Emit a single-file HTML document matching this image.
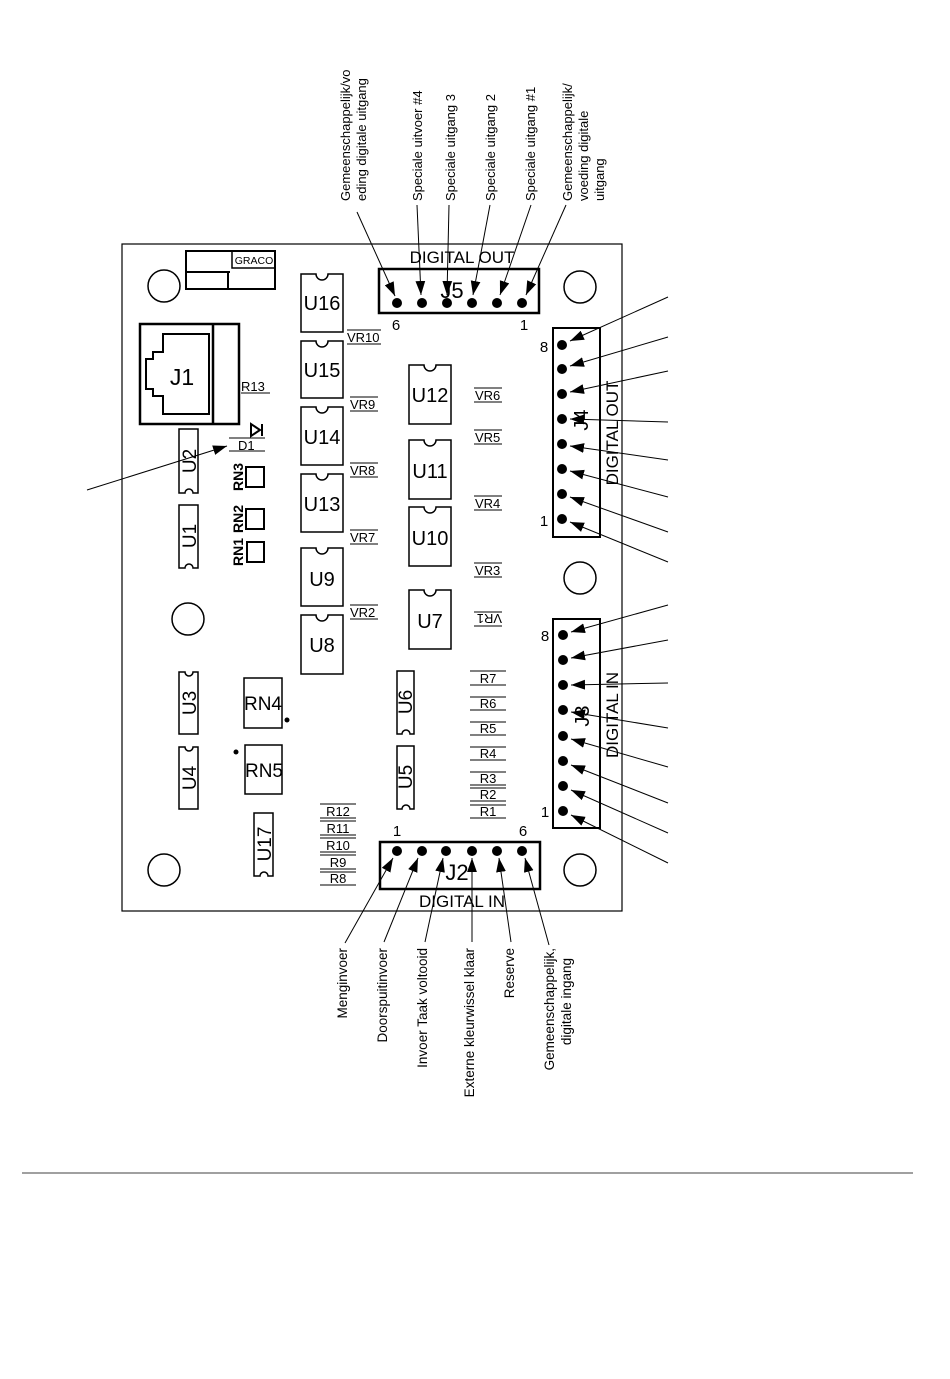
<!DOCTYPE html>
<html><head><meta charset="utf-8"><style>
html,body{margin:0;padding:0;background:#fff;}
svg{display:block;}
text{font-family:"Liberation Sans",sans-serif;fill:#000;}
</style></head><body>
<svg width="950" height="1379" viewBox="0 0 950 1379" xmlns="http://www.w3.org/2000/svg">
<defs>
<marker id="ar2" viewBox="0 0 10 10" refX="10" refY="5" markerWidth="14" markerHeight="14" markerUnits="userSpaceOnUse" orient="auto"><path d="M0,1.5 L10,5 L0,8.5 z" fill="#000"/></marker>
</defs>
<rect width="950" height="1379" fill="#fff"/>
<rect x="122" y="244" width="500" height="667" fill="none" stroke="#000" stroke-width="1.2"/>
<g fill="none" stroke="#000" stroke-width="1.5">
<circle cx="164" cy="286" r="16"/><circle cx="580" cy="287" r="16"/><circle cx="580" cy="578" r="16"/>
<circle cx="188" cy="619" r="16"/><circle cx="164" cy="870" r="16"/><circle cx="580" cy="870" r="16"/>
</g>
<g fill="none" stroke="#000" stroke-width="2">
<rect x="186" y="251" width="89" height="38"/>
<rect x="232" y="251" width="43" height="17" stroke-width="1.5"/>
<line x1="186" y1="272" x2="230" y2="272"/><line x1="228" y1="272" x2="228" y2="289"/>
</g>
<text x="254" y="264" font-size="10.5" text-anchor="middle">GRACO</text>
<g fill="none" stroke="#000" stroke-width="2.5">
<rect x="140" y="324" width="99" height="100"/>
<line x1="213" y1="324" x2="213" y2="424"/>
<polygon points="163,334 209,334 209,414 163,414 163,396 153,396 153,389 146,389 146,359 153,359 153,352 163,352" stroke-width="2"/>
</g>
<text x="182" y="385" font-size="23" text-anchor="middle">J1</text>
<text x="241" y="391" font-size="13">R13</text><line x1="241" y1="393" x2="270" y2="393" stroke="#000"/>
<path d="M251,424 L251,436 L260,430 z M262,424 L262,436" fill="none" stroke="#000" stroke-width="2"/>
<line x1="229" y1="438" x2="265" y2="438" stroke="#000"/>
<text x="238" y="450" font-size="13">D1</text>
<line x1="229" y1="451" x2="265" y2="451" stroke="#000"/>
<line x1="87" y1="490" x2="227" y2="446" stroke="#000" marker-end="url(#ar2)"/>
<g fill="none" stroke="#000" stroke-width="1.5">
<path d="M179,429 H198 V493 H193 A4,4 0 0 0 185,493 H179 Z"/>
<path d="M179,505 H198 V568 H193 A4,4 0 0 0 185,568 H179 Z"/>
<path d="M179,672 H185 A4,4 0 0 0 193,672 H198 V734 H179 Z"/>
<path d="M179,747 H185 A4,4 0 0 0 193,747 H198 V809 H179 Z"/>
<path d="M254,813 H273 V876 H268 A4,4 0 0 0 260,876 H254 Z"/>
<path d="M397,671 H414 V734 H410 A4,4 0 0 0 402,734 H397 Z"/>
<path d="M397,746 H414 V809 H410 A4,4 0 0 0 402,809 H397 Z"/>
</g>
<g font-size="19">
<text transform="translate(196,461) rotate(-90)" text-anchor="middle">U2</text>
<text transform="translate(196,536) rotate(-90)" text-anchor="middle">U1</text>
<text transform="translate(196,703) rotate(-90)" text-anchor="middle">U3</text>
<text transform="translate(196,778) rotate(-90)" text-anchor="middle">U4</text>
<text transform="translate(271,844) rotate(-90)" text-anchor="middle">U17</text>
<text transform="translate(412,702) rotate(-90)" text-anchor="middle">U6</text>
<text transform="translate(412,777) rotate(-90)" text-anchor="middle">U5</text>
</g>
<g fill="none" stroke="#000" stroke-width="2">
<rect x="246" y="467" width="18" height="20"/><rect x="246" y="509" width="18" height="20"/><rect x="247" y="542" width="17" height="20"/>
</g>
<g font-size="14" font-weight="bold">
<text transform="translate(243,477) rotate(-90)" text-anchor="middle">RN3</text>
<text transform="translate(243,519) rotate(-90)" text-anchor="middle">RN2</text>
<text transform="translate(243,552) rotate(-90)" text-anchor="middle">RN1</text>
</g>
<g fill="none" stroke="#000" stroke-width="1.5">
<rect x="244" y="678" width="38" height="50"/><rect x="245" y="745" width="37" height="49"/>
</g>
<circle cx="287" cy="720" r="2.5"/><circle cx="236" cy="752" r="2.5"/>
<text x="263" y="710" font-size="19" text-anchor="middle">RN4</text>
<text x="264" y="777" font-size="19" text-anchor="middle">RN5</text>
<g fill="none" stroke="#000" stroke-width="1.5">
<path d="M301,274 H316 A6,6 0 0 0 328,274 H343 V332 H301 Z"/>
<path d="M301,341 H316 A6,6 0 0 0 328,341 H343 V398 H301 Z"/>
<path d="M301,407 H316 A6,6 0 0 0 328,407 H343 V465 H301 Z"/>
<path d="M301,474 H316 A6,6 0 0 0 328,474 H343 V532 H301 Z"/>
<path d="M301,548 H316 A6,6 0 0 0 328,548 H343 V606 H301 Z"/>
<path d="M301,615 H316 A6,6 0 0 0 328,615 H343 V674 H301 Z"/>
<path d="M409,365 H424 A6,6 0 0 0 436,365 H451 V424 H409 Z"/>
<path d="M409,440 H424 A6,6 0 0 0 436,440 H451 V499 H409 Z"/>
<path d="M409,507 H424 A6,6 0 0 0 436,507 H451 V566 H409 Z"/>
<path d="M409,590 H424 A6,6 0 0 0 436,590 H451 V649 H409 Z"/>
</g>
<g font-size="20" text-anchor="middle">
<text x="322" y="310">U16</text><text x="322" y="377">U15</text><text x="322" y="444">U14</text>
<text x="322" y="511">U13</text><text x="322" y="586">U9</text><text x="322" y="652">U8</text>
<text x="430" y="402">U12</text><text x="430" y="478">U11</text><text x="430" y="545">U10</text><text x="430" y="628">U7</text>
</g>
<g font-size="13" stroke="#000" stroke-width="1">
<text x="347" y="342" stroke="none">VR10</text><line x1="347" y1="330" x2="381" y2="330"/><line x1="347" y1="344" x2="381" y2="344"/>
<text x="350" y="409" stroke="none">VR9</text><line x1="350" y1="397" x2="378" y2="397"/><line x1="350" y1="411" x2="378" y2="411"/>
<text x="350" y="475" stroke="none">VR8</text><line x1="350" y1="463" x2="378" y2="463"/><line x1="350" y1="477" x2="378" y2="477"/>
<text x="350" y="542" stroke="none">VR7</text><line x1="350" y1="530" x2="378" y2="530"/><line x1="350" y1="544" x2="378" y2="544"/>
<text x="350" y="617" stroke="none">VR2</text><line x1="350" y1="605" x2="378" y2="605"/><line x1="350" y1="619" x2="378" y2="619"/>
<text x="475" y="400" stroke="none">VR6</text><line x1="474" y1="388" x2="502" y2="388"/><line x1="474" y1="402" x2="502" y2="402"/>
<text x="475" y="442" stroke="none">VR5</text><line x1="474" y1="430" x2="502" y2="430"/><line x1="474" y1="444" x2="502" y2="444"/>
<text x="475" y="508" stroke="none">VR4</text><line x1="474" y1="496" x2="502" y2="496"/><line x1="474" y1="510" x2="502" y2="510"/>
<text x="475" y="575" stroke="none">VR3</text><line x1="474" y1="563" x2="502" y2="563"/><line x1="474" y1="577" x2="502" y2="577"/>
<text transform="translate(502,614) scale(-1,-1)" stroke="none">VR1</text><line x1="474" y1="612" x2="502" y2="612"/><line x1="474" y1="626" x2="502" y2="626"/>
</g>
<g font-size="13" stroke="#000" stroke-width="1" text-anchor="middle">
<line x1="470" y1="671" x2="506" y2="671"/><text x="488" y="683" stroke="none">R7</text><line x1="470" y1="685" x2="506" y2="685"/>
<line x1="470" y1="697" x2="506" y2="697"/><text x="488" y="708" stroke="none">R6</text><line x1="470" y1="710" x2="506" y2="710"/>
<line x1="470" y1="722" x2="506" y2="722"/><text x="488" y="733" stroke="none">R5</text><line x1="470" y1="735" x2="506" y2="735"/>
<line x1="470" y1="747" x2="506" y2="747"/><text x="488" y="758" stroke="none">R4</text><line x1="470" y1="760" x2="506" y2="760"/>
<line x1="470" y1="772" x2="506" y2="772"/><text x="488" y="783" stroke="none">R3</text><line x1="470" y1="785" x2="506" y2="785"/>
<line x1="470" y1="788" x2="506" y2="788"/><text x="488" y="799" stroke="none">R2</text><line x1="470" y1="801" x2="506" y2="801"/>
<line x1="470" y1="805" x2="506" y2="805"/><text x="488" y="816" stroke="none">R1</text><line x1="470" y1="818" x2="506" y2="818"/>
<line x1="320" y1="804" x2="356" y2="804"/><text x="338" y="816" stroke="none">R12</text><line x1="320" y1="818" x2="356" y2="818"/>
<line x1="320" y1="821" x2="356" y2="821"/><text x="338" y="833" stroke="none">R11</text><line x1="320" y1="835" x2="356" y2="835"/>
<line x1="320" y1="838" x2="356" y2="838"/><text x="338" y="850" stroke="none">R10</text><line x1="320" y1="852" x2="356" y2="852"/>
<line x1="320" y1="855" x2="356" y2="855"/><text x="338" y="867" stroke="none">R9</text><line x1="320" y1="869" x2="356" y2="869"/>
<line x1="320" y1="872" x2="356" y2="872"/><text x="338" y="883" stroke="none">R8</text><line x1="320" y1="885" x2="356" y2="885"/>
</g>
<rect x="379" y="269" width="160" height="44" fill="none" stroke="#000" stroke-width="2.5"/>
<text x="462" y="263" font-size="17" text-anchor="middle">DIGITAL OUT</text>
<text x="452" y="298" font-size="22" text-anchor="middle">J5</text>
<g fill="#000"><circle cx="397" cy="303" r="5"/><circle cx="422" cy="303" r="5"/><circle cx="447" cy="303" r="5"/><circle cx="472" cy="303" r="5"/><circle cx="497" cy="303" r="5"/><circle cx="522" cy="303" r="5"/></g>
<text x="396" y="330" font-size="15" text-anchor="middle">6</text><text x="524" y="330" font-size="15" text-anchor="middle">1</text>
<g stroke="#000" stroke-width="1">
<line x1="357" y1="212" x2="395" y2="296" marker-end="url(#ar2)"/>
<line x1="417" y1="205" x2="421" y2="295" marker-end="url(#ar2)"/>
<line x1="449" y1="205" x2="447" y2="295" marker-end="url(#ar2)"/>
<line x1="490" y1="205" x2="473" y2="295" marker-end="url(#ar2)"/>
<line x1="531" y1="205" x2="500" y2="295" marker-end="url(#ar2)"/>
<line x1="566" y1="205" x2="526" y2="295" marker-end="url(#ar2)"/>
</g>
<g font-size="13">
<text transform="translate(350,201) rotate(-90)">Gemeenschappelijk/vo</text>
<text transform="translate(366,201) rotate(-90)">eding digitale uitgang</text>
<text transform="translate(422,201) rotate(-90)">Speciale uitvoer #4</text>
<text transform="translate(455,201) rotate(-90)">Speciale uitgang 3</text>
<text transform="translate(495,201) rotate(-90)">Speciale uitgang 2</text>
<text transform="translate(535,201) rotate(-90)">Speciale uitgang #1</text>
<text transform="translate(572,201) rotate(-90)">Gemeenschappelijk/</text>
<text transform="translate(588,201) rotate(-90)">voeding digitale</text>
<text transform="translate(604,201) rotate(-90)">uitgang</text>
</g>
<rect x="553" y="328" width="47" height="209" fill="none" stroke="#000" stroke-width="2"/>
<text transform="translate(618,433) rotate(-90)" font-size="17" text-anchor="middle">DIGITAL OUT</text>
<text transform="translate(588,420) rotate(-90)" font-size="20" text-anchor="middle">J4</text>
<g fill="#000"><circle cx="562" cy="345" r="5"/><circle cx="562" cy="369" r="5"/><circle cx="562" cy="394" r="5"/><circle cx="562" cy="419" r="5"/><circle cx="562" cy="444" r="5"/><circle cx="562" cy="469" r="5"/><circle cx="562" cy="494" r="5"/><circle cx="562" cy="519" r="5"/></g>
<text x="544" y="352" font-size="15" text-anchor="middle">8</text><text x="544" y="526" font-size="15" text-anchor="middle">1</text>
<g stroke="#000" stroke-width="1">
<line x1="668" y1="297" x2="570" y2="341" marker-end="url(#ar2)"/>
<line x1="668" y1="337" x2="570" y2="366" marker-end="url(#ar2)"/>
<line x1="668" y1="371" x2="570" y2="392" marker-end="url(#ar2)"/>
<line x1="668" y1="422" x2="570" y2="419" marker-end="url(#ar2)"/>
<line x1="668" y1="460" x2="570" y2="446" marker-end="url(#ar2)"/>
<line x1="668" y1="497" x2="570" y2="471" marker-end="url(#ar2)"/>
<line x1="668" y1="532" x2="570" y2="497" marker-end="url(#ar2)"/>
<line x1="668" y1="562" x2="570" y2="522" marker-end="url(#ar2)"/>
</g>
<rect x="553" y="619" width="47" height="209" fill="none" stroke="#000" stroke-width="2"/>
<text transform="translate(618,715) rotate(-90)" font-size="17" text-anchor="middle">DIGITAL IN</text>
<text transform="translate(589,716) rotate(-90)" font-size="20" text-anchor="middle">J3</text>
<g fill="#000"><circle cx="563" cy="635" r="5"/><circle cx="563" cy="660" r="5"/><circle cx="563" cy="685" r="5"/><circle cx="563" cy="710" r="5"/><circle cx="563" cy="736" r="5"/><circle cx="563" cy="761" r="5"/><circle cx="563" cy="786" r="5"/><circle cx="563" cy="811" r="5"/></g>
<text x="545" y="641" font-size="15" text-anchor="middle">8</text><text x="545" y="817" font-size="15" text-anchor="middle">1</text>
<g stroke="#000" stroke-width="1">
<line x1="668" y1="605" x2="571" y2="632" marker-end="url(#ar2)"/>
<line x1="668" y1="640" x2="571" y2="658" marker-end="url(#ar2)"/>
<line x1="668" y1="683" x2="571" y2="685" marker-end="url(#ar2)"/>
<line x1="668" y1="728" x2="571" y2="712" marker-end="url(#ar2)"/>
<line x1="668" y1="767" x2="571" y2="739" marker-end="url(#ar2)"/>
<line x1="668" y1="803" x2="571" y2="765" marker-end="url(#ar2)"/>
<line x1="668" y1="833" x2="571" y2="790" marker-end="url(#ar2)"/>
<line x1="668" y1="863" x2="571" y2="815" marker-end="url(#ar2)"/>
</g>
<rect x="380" y="842" width="160" height="47" fill="none" stroke="#000" stroke-width="2.5"/>
<text x="462" y="907" font-size="17" text-anchor="middle">DIGITAL IN</text>
<text x="457" y="880" font-size="22" text-anchor="middle">J2</text>
<g fill="#000"><circle cx="397" cy="851" r="5"/><circle cx="422" cy="851" r="5"/><circle cx="446" cy="851" r="5"/><circle cx="472" cy="851" r="5"/><circle cx="497" cy="851" r="5"/><circle cx="522" cy="851" r="5"/></g>
<text x="397" y="836" font-size="15" text-anchor="middle">1</text><text x="523" y="836" font-size="15" text-anchor="middle">6</text>
<g stroke="#000" stroke-width="1">
<line x1="345" y1="943" x2="393" y2="858" marker-end="url(#ar2)"/>
<line x1="384" y1="942" x2="418" y2="858" marker-end="url(#ar2)"/>
<line x1="425" y1="942" x2="443" y2="858" marker-end="url(#ar2)"/>
<line x1="472" y1="942" x2="472" y2="858" marker-end="url(#ar2)"/>
<line x1="511" y1="942" x2="499" y2="858" marker-end="url(#ar2)"/>
<line x1="549" y1="945" x2="525" y2="858" marker-end="url(#ar2)"/>
</g>
<g font-size="13.5" text-anchor="end">
<text transform="translate(347,948) rotate(-90)">Menginvoer</text>
<text transform="translate(387,948) rotate(-90)">Doorspuitinvoer</text>
<text transform="translate(427,948) rotate(-90)">Invoer Taak voltooid</text>
<text transform="translate(474,948) rotate(-90)">Externe kleurwissel klaar</text>
<text transform="translate(514,948) rotate(-90)">Reserve</text>
<text transform="translate(554,948) rotate(-90)">Gemeenschappelijk,</text>
<text transform="translate(571,958) rotate(-90)">digitale ingang</text>
</g>
<line x1="22" y1="1173" x2="913" y2="1173" stroke="#a0a0a0" stroke-width="2"/>
</svg>
</body></html>
